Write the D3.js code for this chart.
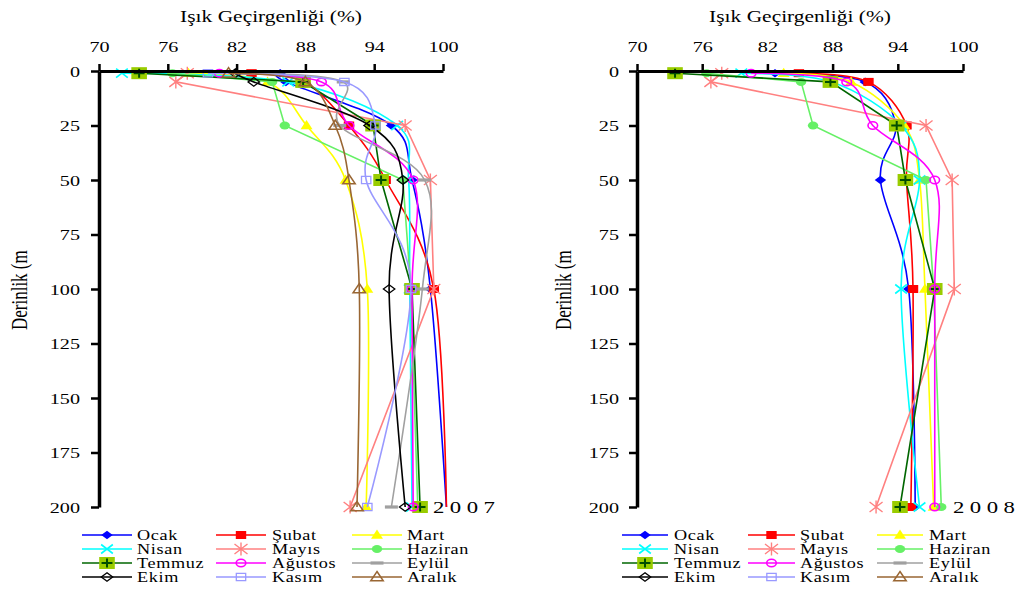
<!DOCTYPE html>
<html>
<head>
<meta charset="utf-8">
<script src="https://cdn.jsdelivr.net/npm/d3@7"></script>
<style>
  html, body { margin: 0; padding: 0; background: #fff; }
  svg { display: block; }
</style>
</head>
<body>
<svg id="chart" width="1023" height="593"></svg>
<script>
// Depths (m) at which light transmission was measured
const depths = [1, 5, 25, 50, 100, 200];
const months = ["Ocak", "Şubat", "Mart", "Nisan", "Mayıs", "Haziran",
                "Temmuz", "Ağustos", "Eylül", "Ekim", "Kasım", "Aralık"];
const xTicks = [70, 76, 82, 88, 94, 100];
const yTicks = [0, 25, 50, 75, 100, 125, 150, 175, 200];

// 2007 light transmission (%) by month, one value per depth
const ocak2007    = [85.8, 86.3, 95.5, 97.3, 98.9, 100.3];
const subat2007   = [83.3, 87.9, 91.8, 95.0, 99.2, 100.3];
const mart2007    = [77.8, 84.7, 88.1, 91.5, 93.4, 93.3];
const nisan2007   = [72.0, 86.5, 96.0, 97.0, 97.1, 97.3];
const mayis2007   = [77.7, 76.7, 96.7, 98.9, 99.2, 91.9];
const haziran2007 = [76.4, 85.1, 86.2, 96.5, 97.2, 97.8];
const temmuz2007  = [73.5, 87.8, 93.9, 94.6, 97.3, 98.0];
const agustos2007 = [80.5, 89.4, 91.8, 97.4, 97.3, 97.4];
const eylul2007   = [82.6, 91.3, 91.0, 98.4, 98.2, 95.5];
const ekim2007    = [81.9, 83.5, 93.6, 96.5, 95.3, 96.7];
const kasim2007   = [79.5, 91.4, 94.1, 93.3, 97.2, 93.4];
const aralik2007  = [81.3, 88.0, 90.6, 91.8, 92.7, 92.5];

// 2008 light transmission (%) by month (January - August)
const ocak2008    = [82.7, 91.0, 93.8, 92.4, 95.0, 95.6];
const subat2008   = [84.9, 91.3, 94.8, 94.8, 95.4, 95.2];
const mart2008    = [83.5, 89.7, 94.6, 96.0, 96.5, 97.3];
const nisan2008   = [79.6, 87.9, 94.3, 96.0, 94.3, 96.0];
const mayis2008   = [77.8, 76.8, 96.6, 99.0, 99.2, 92.0];
const haziran2008 = [76.4, 85.1, 86.2, 96.6, 97.3, 98.0];
const temmuz2008  = [73.5, 87.8, 93.9, 94.7, 97.4, 94.2];
const agustos2008 = [80.5, 89.3, 91.7, 97.4, 97.4, 97.4];

const series2007 = [ocak2007, subat2007, mart2007, nisan2007, mayis2007, haziran2007,
                    temmuz2007, agustos2007, eylul2007, ekim2007, kasim2007, aralik2007];
const series2008 = [ocak2008, subat2008, mart2008, nisan2008, mayis2008, haziran2008,
                    temmuz2008, agustos2008];

// Per-month look: line colour, marker type, smoothed or straight line
const styles = {
  "Ocak":    { color: "#0000FF", marker: "diamond",  smooth: true },
  "Şubat":   { color: "#FF0000", marker: "square",   smooth: true },
  "Mart":    { color: "#FFFF00", marker: "triangle", smooth: true },
  "Nisan":   { color: "#00FFFF", marker: "x",        smooth: true },
  "Mayıs":   { color: "#FF8080", marker: "star",     smooth: false },
  "Haziran": { color: "#66F066", marker: "circle",   smooth: false },
  "Temmuz":  { color: "#006600", marker: "plusbox",  smooth: false },
  "Ağustos": { color: "#FF00FF", marker: "ocircle",  smooth: true },
  "Eylül":   { color: "#A0A0A0", marker: "dash",     smooth: true },
  "Ekim":    { color: "#000000", marker: "odiamond", smooth: true },
  "Kasım":   { color: "#9999FF", marker: "osquare",  smooth: true },
  "Aralık":  { color: "#996633", marker: "otriangle",smooth: true }
};

const FONT = "'Liberation Serif', 'Times New Roman', serif";
const SX = 1.3; // horizontal stretch of glyphs and markers

const svg = d3.select("#chart");
svg.append("rect").attr("width", 1023).attr("height", 593).attr("fill", "#fff");

function stext(g, x, y, str, size, anchor, spacing) {
  return g.append("text")
    .attr("transform", `translate(${x},${y}) scale(${SX},1)`)
    .attr("text-anchor", anchor || "start")
    .attr("font-family", FONT)
    .attr("font-size", size)
    .attr("letter-spacing", spacing || 0)
    .attr("fill", "#000")
    .text(str);
}

function drawMarker(g, type, cx, cy, color) {
  const m = g.append("g").attr("transform", `translate(${cx},${cy}) scale(${SX},1)`);
  const ns = (sel) => sel.attr("vector-effect", "non-scaling-stroke");
  switch (type) {
    case "diamond":
      m.append("path").attr("d", "M0,-4.3L4.4,0L0,4.3L-4.4,0Z").attr("fill", color);
      break;
    case "square":
      m.append("rect").attr("x", -4).attr("y", -4).attr("width", 8).attr("height", 8).attr("fill", color);
      break;
    case "triangle":
      m.append("path").attr("d", "M0,-5.5L4.6,3.8L-4.6,3.8Z").attr("fill", color);
      break;
    case "x":
      ns(m.append("path").attr("d", "M-4.5,-4.5L4.5,4.5M-4.5,4.5L4.5,-4.5")
        .attr("stroke", color).attr("stroke-width", 1.6).attr("fill", "none"));
      break;
    case "star":
      ns(m.append("path").attr("d", "M-5,-5L5,5M-5,5L5,-5M0,-6.5L0,6.5")
        .attr("stroke", color).attr("stroke-width", 1.4).attr("fill", "none"));
      break;
    case "circle":
      m.append("circle").attr("r", 4).attr("fill", color);
      break;
    case "plusbox":
      m.append("rect").attr("x", -6).attr("y", -6).attr("width", 12).attr("height", 12).attr("fill", "#99CC00");
      ns(m.append("path").attr("d", "M-4.2,0L4.2,0M0,-4.5L0,4.5")
        .attr("stroke", "#004d00").attr("stroke-width", 2).attr("fill", "none"));
      break;
    case "ocircle":
      ns(m.append("circle").attr("r", 3.7).attr("fill", "none")
        .attr("stroke", color).attr("stroke-width", 1.6));
      break;
    case "dash":
      m.append("rect").attr("x", -5).attr("y", -1.6).attr("width", 10).attr("height", 3.2).attr("fill", color);
      break;
    case "odiamond":
      ns(m.append("path").attr("d", "M0,-4.3L4.4,0L0,4.3L-4.4,0Z").attr("fill", "none")
        .attr("stroke", color).attr("stroke-width", 1.3));
      break;
    case "osquare":
      ns(m.append("rect").attr("x", -3.6).attr("y", -3.6).attr("width", 7.2).attr("height", 7.2)
        .attr("fill", "none").attr("stroke", color).attr("stroke-width", 1.3));
      break;
    case "otriangle":
      ns(m.append("path").attr("d", "M0,-5.5L4.8,3.8L-4.8,3.8Z").attr("fill", "none")
        .attr("stroke", color).attr("stroke-width", 1.5));
      break;
  }
}

function drawPanel(opt) {
  const g = svg.append("g");
  const x = d3.scaleLinear().domain([70, 100]).range([opt.x0, opt.x1]);
  const y = d3.scaleLinear().domain([0, 200]).range([71, 507]);

  // Series lines and markers (later months drawn on top)
  opt.series.forEach((vals, i) => {
    const name = months[i];
    const st = styles[name];
    const pts = depths.map((d, k) => ({ d, v: vals[k] }));
    const line = d3.line()
      .x(p => x(p.v)).y(p => y(p.d))
      .curve(st.smooth ? d3.curveCardinal.tension(0) : d3.curveLinear);
    g.append("path").datum(pts).attr("d", line)
      .attr("fill", "none").attr("stroke", st.color).attr("stroke-width", 1.6);
    pts.filter(p => p.v <= 100).forEach(p => drawMarker(g, st.marker, x(p.v), y(p.d), st.color));
  });

  // Top value axis
  const gx = g.append("g").attr("transform", "translate(0,71)")
    .call(d3.axisTop(x).tickValues(xTicks).tickSize(7).tickSizeOuter(0).tickFormat(d3.format("d")));
  gx.select(".domain").attr("stroke", "#000").attr("stroke-width", 3);
  gx.selectAll(".tick line").attr("stroke", "#000").attr("stroke-width", 2.5);
  gx.selectAll(".tick text")
    .attr("y", -19).attr("dy", 0)
    .attr("transform", `scale(${SX},1)`)
    .attr("font-family", FONT).attr("font-size", 15.5).attr("fill", "#000");

  // Left depth axis
  const gy = g.append("g").attr("transform", `translate(${opt.x0},0)`)
    .call(d3.axisLeft(y).tickValues(yTicks).tickSize(8).tickSizeOuter(0));
  gy.select(".domain").attr("stroke", "#000").attr("stroke-width", 3.5);
  gy.selectAll(".tick line").attr("stroke", "#000").attr("stroke-width", 2.5);
  gy.selectAll(".tick text")
    .attr("x", -opt.labelGap / SX).attr("dy", "0.34em")
    .attr("transform", `scale(${SX},1)`)
    .attr("font-family", FONT).attr("font-size", 15.5).attr("fill", "#000");

  // Axis titles
  stext(g, (opt.x0 + opt.x1) / 2, 22, "Işık Geçirgenliği (%)", 16.5, "middle");
  g.append("text")
    .attr("transform", `translate(${opt.yTitleX},330) scale(${SX},1) rotate(-90)`)
    .attr("font-family", FONT).attr("font-size", 17).attr("fill", "#000")
    .text("Derinlik (m");

  // Year tag
  stext(g, opt.yearX, 513, opt.year, 17.5, "start", 4.2);

  // Legend: 4 rows x 3 columns
  months.forEach((name, i) => {
    const st = styles[name];
    const col = i % 3, row = Math.floor(i / 3);
    const [lx0, lx1, tx] = opt.legendCols[col];
    const ly = 535 + row * 14;
    g.append("line").attr("x1", lx0).attr("x2", lx1).attr("y1", ly).attr("y2", ly)
      .attr("stroke", st.color).attr("stroke-width", 1.6);
    drawMarker(g, st.marker, (lx0 + lx1) / 2, ly, st.color);
    stext(g, tx, ly + 4.5, name, 14, "start", 0.5);
  });
}

drawPanel({
  x0: 99, x1: 443, series: series2007, year: "2007", yearX: 433,
  labelGap: 19, yTitleX: 27,
  legendCols: [[82, 132, 137], [216, 266, 272], [352, 402, 407]]
});
drawPanel({
  x0: 637, x1: 963, series: series2008, year: "2008", yearX: 953,
  labelGap: 18, yTitleX: 571,
  legendCols: [[622, 668, 674], [748, 795, 800], [877, 923, 929]]
});
</script>
</body>
</html>
